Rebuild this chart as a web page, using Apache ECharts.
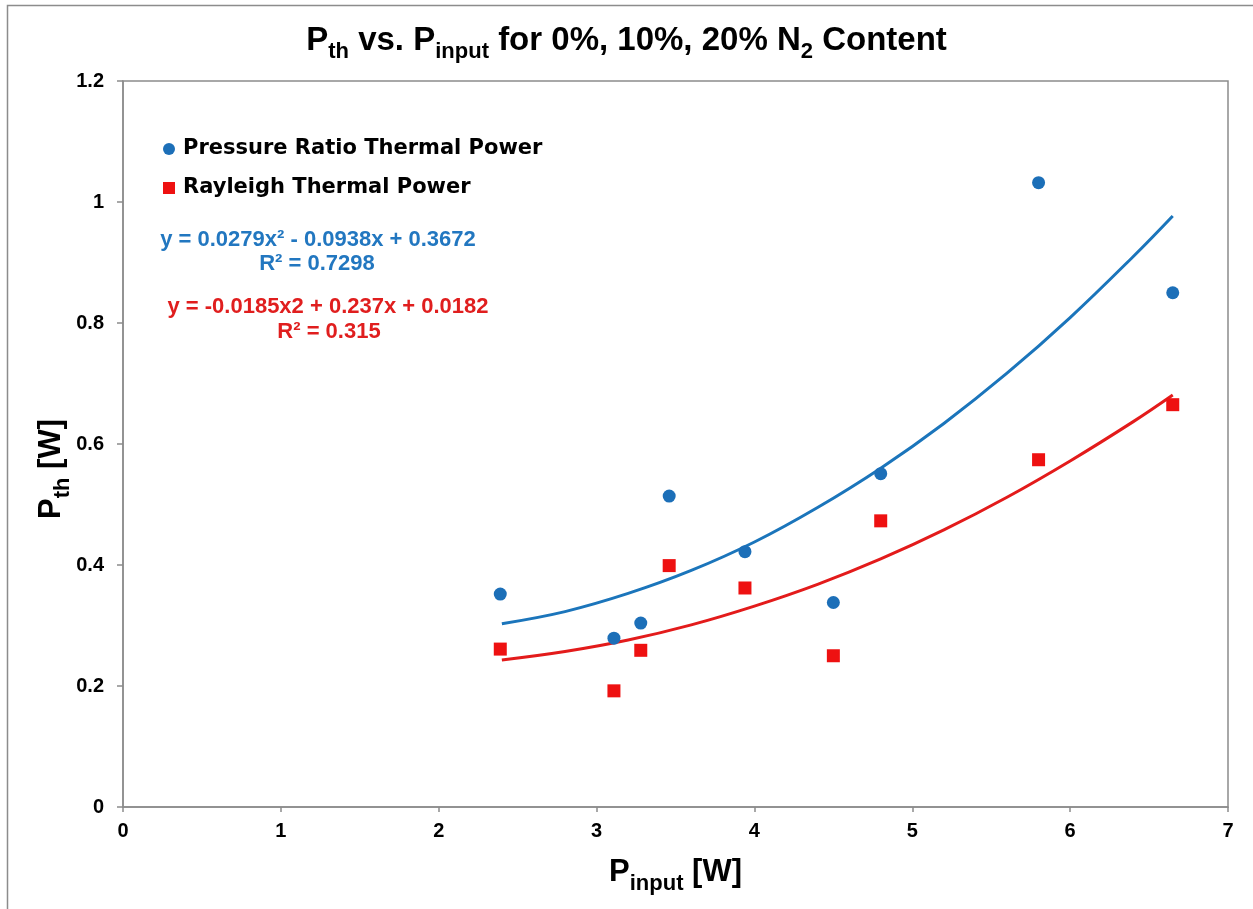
<!DOCTYPE html>
<html>
<head>
<meta charset="utf-8">
<script src="https://cdn.jsdelivr.net/npm/echarts@6/dist/echarts.min.js"></script>
<style>
  html, body { margin: 0; padding: 0; background: #fff; }
  #chart { width: 1253px; height: 909px; }
</style>
</head>
<body>
<div id="chart"></div>
<script>
// -----------------------------------------------------------------------------
// Pth vs Pinput - two scatter series + polynomial trend curves
// -----------------------------------------------------------------------------
const pInput = [2.39, 3.11, 3.28, 3.46, 3.94, 4.50, 4.80, 5.80, 6.65];
const pressurePth = [0.352, 0.279, 0.304, 0.514, 0.422, 0.338, 0.551, 1.032, 0.850];
const rayleighPth = [0.261, 0.192, 0.259, 0.399, 0.362, 0.250, 0.473, 0.574, 0.665];

// trend curves
const trendX = [2.4, 2.8, 3.2, 3.6, 4.0, 4.4, 4.8, 5.2, 5.6, 6.0, 6.4, 6.65];
const pressureTrend = [0.303, 0.323, 0.353, 0.391, 0.438, 0.495, 0.560, 0.634, 0.717, 0.809, 0.910, 0.977];
const rayleighTrend = [0.243, 0.257, 0.276, 0.301, 0.332, 0.368, 0.410, 0.458, 0.512, 0.572, 0.637, 0.681];

const xTickLabels = ["0", "1", "2", "3", "4", "5", "6", "7"];
const yTickLabels = ["0", "0.2", "0.4", "0.6", "0.8", "1", "1.2"];

const seriesNames = ["Pressure Ratio Thermal Power", "Rayleigh Thermal Power"];
const equations = [
  ["y = 0.0279x² - 0.0938x + 0.3672", "R² = 0.7298"],
  ["y = -0.0185x2 + 0.237x + 0.0182", "R² = 0.315"]
];

const BLUE = "#1c6fb8";
const RED = "#ee1111";
const AXIS = "#8c8c8c";
const FONT = "'Liberation Sans', Arial, sans-serif";

function pairs(xs, ys) {
  return xs.map((x, i) => [x, ys[i]]);
}

function eqText(text, x, y, color) {
  return {
    type: "text",
    x: x,
    y: y,
    silent: true,
    style: {
      text: text,
      fill: color,
      font: `bold 22px ${FONT}`,
      textAlign: "center",
      textVerticalAlign: "middle"
    }
  };
}

const chart = echarts.init(document.getElementById("chart"));

const main = { fontFamily: FONT, fontWeight: "bold", color: "#000" };
// big text + lowered subscript, shared by the axis names
const nameRich = {
  b: { ...main, fontSize: 31, lineHeight: 36, padding: [0, 0, 7, 0], verticalAlign: "bottom" },
  s: { ...main, fontSize: 22, lineHeight: 25, verticalAlign: "bottom" }
};

chart.setOption({
  animation: false,
  title: {
    left: "center",
    top: 20,
    text: "{b|P}{s|th}{b| vs. P}{s|input}{b| for 0%, 10%, 20% N}{s|2}{b| Content}",
    textStyle: {
      rich: {
        b: { ...main, fontSize: 33, lineHeight: 38, padding: [0, 0, 6, 0], verticalAlign: "bottom" },
        s: { ...main, fontSize: 22, lineHeight: 25, verticalAlign: "bottom" }
      }
    }
  },
  grid: {
    left: 123,
    right: 25,
    top: 81,
    bottom: 102,
    show: true,
    borderColor: AXIS,
    borderWidth: 1.5,
    containLabel: false
  },
  legend: {
    orient: "vertical",
    left: 158,
    top: 131,
    itemGap: 13,
    itemWidth: 12,
    itemHeight: 12,
    data: [
      { name: seriesNames[0], icon: "circle" },
      { name: seriesNames[1], icon: "rect" }
    ],
    textStyle: {
      fontFamily: "'DejaVu Sans', sans-serif",
      fontWeight: "bold",
      fontSize: 21,
      lineHeight: 26,
      color: "#000",
      padding: [0, 0, 0, 3]
    }
  },
  xAxis: {
    type: "value",
    min: 0,
    max: 7,
    interval: 1,
    name: "{b|P}{s|input}{b| [W]}",
    nameLocation: "middle",
    nameGap: 52,
    nameTextStyle: { rich: nameRich },
    axisLine: { show: true, lineStyle: { color: AXIS, width: 1.5 } },
    axisTick: { show: true, length: 5, lineStyle: { color: AXIS, width: 1.5 } },
    axisLabel: {
      margin: 14,
      fontFamily: FONT,
      fontWeight: "bold",
      fontSize: 20,
      color: "#000",
      formatter: (v) => xTickLabels[Math.round(v)]
    },
    splitLine: { show: false }
  },
  yAxis: {
    type: "value",
    min: 0,
    max: 1.2,
    interval: 0.2,
    name: "{b|P}{s|th}{b| [W]}",
    nameLocation: "middle",
    nameRotate: 90,
    nameGap: 49,
    nameMoveOverlap: false,
    nameTextStyle: { padding: [0, 50, 0, 0], rich: nameRich },
    axisLine: { show: true, lineStyle: { color: AXIS, width: 1.5 } },
    axisTick: { show: true, length: 6, lineStyle: { color: AXIS, width: 1.5 } },
    axisLabel: {
      margin: 19,
      fontFamily: FONT,
      fontWeight: "bold",
      fontSize: 20,
      color: "#000",
      formatter: (v) => yTickLabels[Math.round(v / 0.2)]
    },
    splitLine: { show: false }
  },
  series: [
    {
      name: "pressure-trend",
      type: "line",
      data: pairs(trendX, pressureTrend),
      smooth: 0.4,
      showSymbol: false,
      lineStyle: { color: "#1b75bb", width: 3 },
      z: 2
    },
    {
      name: "rayleigh-trend",
      type: "line",
      data: pairs(trendX, rayleighTrend),
      smooth: 0.4,
      showSymbol: false,
      lineStyle: { color: "#e31b1b", width: 3 },
      z: 2
    },
    {
      name: seriesNames[0],
      type: "scatter",
      symbol: "circle",
      symbolSize: 13,
      itemStyle: { color: BLUE, opacity: 1 },
      data: pairs(pInput, pressurePth),
      z: 3
    },
    {
      name: seriesNames[1],
      type: "scatter",
      symbol: "rect",
      symbolSize: 13,
      itemStyle: { color: RED, opacity: 1 },
      data: pairs(pInput, rayleighPth),
      z: 3
    }
  ],
  graphic: [
    // outer chart frame, clipped at the right/bottom like the source
    {
      type: "rect",
      shape: { x: 7.5, y: 5.5, width: 1400, height: 1000 },
      style: { fill: null, stroke: AXIS, lineWidth: 1.5 },
      silent: true
    },
    eqText(equations[0][0], 318, 240, "#2277c0"),
    eqText(equations[0][1], 317, 264, "#2277c0"),
    eqText(equations[1][0], 328, 307, "#e01e1e"),
    eqText(equations[1][1], 329, 332, "#e01e1e")
  ]
});
</script>
</body>
</html>
